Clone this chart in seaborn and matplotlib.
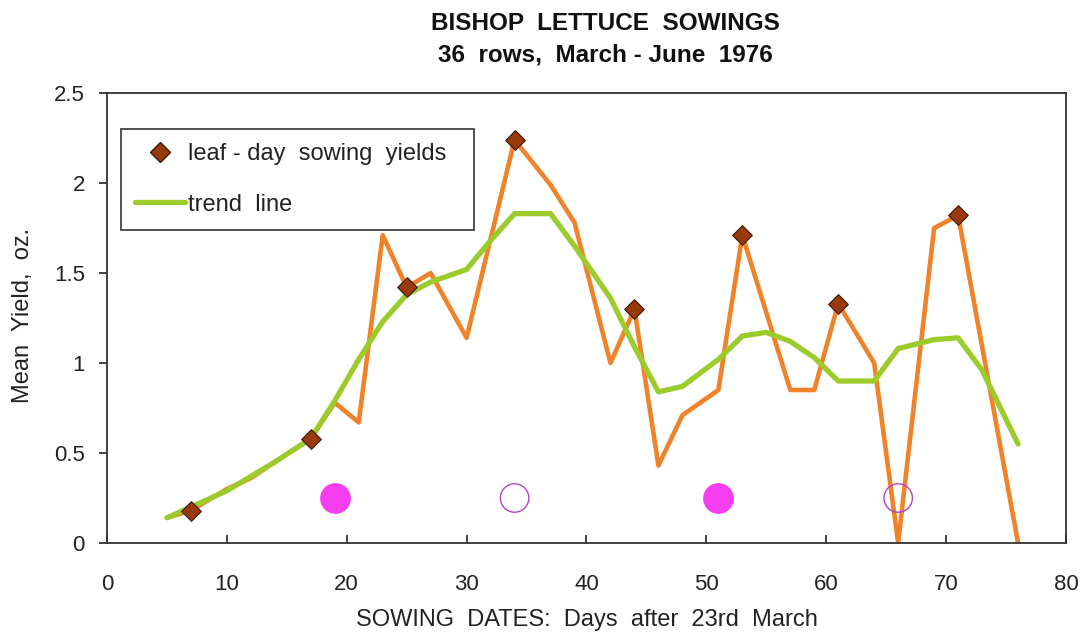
import matplotlib
matplotlib.use("Agg")
import matplotlib.pyplot as plt
from matplotlib.lines import Line2D
import pandas as pd
import seaborn as sns

# orange line: all sowings
sow_days = [5, 7, 10, 12, 14, 17, 19, 21, 23, 25, 27, 30, 34, 37, 39, 42, 44, 46,
            48, 51, 53, 57, 59, 61, 64, 66, 69, 71, 76]
sow_yield = [0.14, 0.18, 0.30, 0.36, 0.45, 0.58, 0.78, 0.67, 1.71, 1.42, 1.50, 1.14,
             2.24, 1.99, 1.78, 1.00, 1.30, 0.43, 0.71, 0.85, 1.71, 0.85, 0.85, 1.33,
             1.00, 0.00, 1.75, 1.82, 0.00]

# leaf-day sowings (diamonds)
leaf_days = [7, 17, 25, 34, 44, 53, 61, 71]
leaf_yield = [0.18, 0.58, 1.42, 2.24, 1.30, 1.71, 1.33, 1.82]

# trend line
trend_days = [5, 7, 10, 12, 14, 17, 19, 21, 23, 25, 27, 30, 32, 34, 37, 39, 42, 44,
              46, 48, 51, 53, 55, 57, 59, 61, 64, 66, 69, 71, 73, 76]
trend_yield = [0.14, 0.20, 0.29, 0.37, 0.45, 0.58, 0.79, 1.02, 1.23, 1.38, 1.45, 1.52,
               1.68, 1.83, 1.83, 1.65, 1.36, 1.09, 0.84, 0.87, 1.02, 1.15, 1.17, 1.12,
               1.03, 0.90, 0.90, 1.08, 1.13, 1.14, 0.96, 0.55]

# moon markers (filled = full, open = new)
full_days = [19, 51]
new_days = [34, 66]
moon_level = 0.25

sow = pd.DataFrame({"day": sow_days, "yield": sow_yield})
leaf = pd.DataFrame({"day": leaf_days, "yield": leaf_yield})
trend = pd.DataFrame({"day": trend_days, "yield": trend_yield})
full = pd.DataFrame({"day": full_days, "yield": [moon_level] * len(full_days)})
new = pd.DataFrame({"day": new_days, "yield": [moon_level] * len(new_days)})

sns.set_theme(style="white")
plt.rcParams["font.family"] = ["Liberation Sans", "DejaVu Sans"]

ORANGE = "#f0832a"
GREEN = "#9ccb2c"
BROWN = "#983a0c"
TXT = "#222222"

fig = plt.figure(figsize=(10.83, 6.35), dpi=100)
ax = fig.add_axes([0.0988, 0.1449, 0.8855, 0.7086])

sns.lineplot(data=sow, x="day", y="yield", color=ORANGE, lw=3.3, estimator=None,
             ax=ax, zorder=2)
sns.lineplot(data=trend, x="day", y="yield", color=GREEN, lw=3.8, estimator=None,
             ax=ax, zorder=3)
sns.scatterplot(data=leaf, x="day", y="yield", marker="D", s=100, color=BROWN,
                edgecolor="#3a1a08", linewidth=0.8, ax=ax, zorder=4)
sns.scatterplot(data=full, x="day", y="yield", marker="o", s=420, color="#f43ef0",
                edgecolor="#f43ef0", ax=ax, zorder=4)
sns.scatterplot(data=new, x="day", y="yield", marker="o", s=420, facecolor="none",
                edgecolor="#b440c8", linewidth=1.0, ax=ax, zorder=4)

ax.set_xlim(0, 80)
ax.set_ylim(0, 2.5)
ax.set_xticks(range(0, 81, 10))
ax.set_yticks([0, 0.5, 1, 1.5, 2, 2.5])
ax.set_yticklabels(["0", "0.5", "1", "1.5", "2", "2.5"])
ax.tick_params(axis="x", direction="in", length=6, width=1.2, pad=22,
               labelsize=16, colors=TXT, bottom=True)
ax.tick_params(axis="y", direction="out", length=6, width=1.2, pad=10,
               labelsize=16, colors=TXT, left=True)
for sp in ax.spines.values():
    sp.set_color("#333333")
    sp.set_linewidth(1.3)

ax.set_xlabel("SOWING  DATES:  Days  after  23rd  March", fontsize=17, color=TXT)
ax.set_ylabel("Mean  Yield,  oz.", fontsize=17, color=TXT)
ax.xaxis.set_label_coords(0.5, -0.146)
ax.yaxis.set_label_coords(-0.076, 0.505)

fig.text(0.5586, 0.938, "BISHOP  LETTUCE  SOWINGS\n36  rows,  March - June  1976",
         ha="center", va="center", fontsize=17.5, fontweight="bold",
         linespacing=1.45, color="#111111")

handles = [
    Line2D([], [], marker="D", linestyle="none", markersize=10,
           markerfacecolor=BROWN, markeredgecolor="#3a1a08"),
    Line2D([], [], color=GREEN, lw=3.8),
]
leg = ax.legend(handles, ["leaf - day  sowing  yields  ", "trend  line"],
                loc="upper left", bbox_to_anchor=(0.0145, 0.92), fontsize=17,
                frameon=True, fancybox=False, framealpha=1, edgecolor="#333333",
                borderpad=0.6, labelspacing=1.2, handlelength=2.1,
                handletextpad=0.15, borderaxespad=0)
leg.get_frame().set_linewidth(1.2)
for t in leg.get_texts():
    t.set_color(TXT)

fig.savefig("out.png", dpi=100)
